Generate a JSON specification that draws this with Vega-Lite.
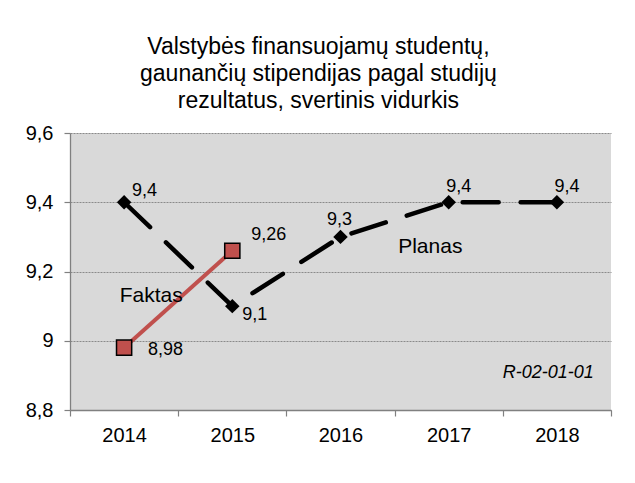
{
  "$schema": "https://vega.github.io/schema/vega-lite/v6.json",
  "width": 541,
  "height": 277,
  "autosize": {"type": "none"},
  "padding": {"left": 70, "top": 133, "right": 24, "bottom": 73},
  "background": "white",
  "title": {
    "text": ["Valstybės finansuojamų studentų,", "gaunančių stipendijas pagal studijų", "rezultatus, svertinis vidurkis"],
    "font": "Liberation Sans",
    "fontSize": 23,
    "fontWeight": "normal",
    "lineHeight": 27,
    "color": "black",
    "anchor": "middle",
    "frame": "bounds",
    "baseline": "bottom",
    "offset": 12,
    "dy": 25
  },
  "config": {
    "locale": {"number": {"decimal": ",", "thousands": "\u00a0", "grouping": [3], "currency": ["", " €"]}},
    "view": {"fill": "#d9d9d9", "stroke": null},
    "font": "Liberation Sans",
    "text": {"font": "Liberation Sans", "color": "black"}
  },
  "datasets": {
    "series": [
      {"year": 2014, "series": "Planas", "value": 9.4},
      {"year": 2015, "series": "Planas", "value": 9.1},
      {"year": 2016, "series": "Planas", "value": 9.3},
      {"year": 2017, "series": "Planas", "value": 9.4},
      {"year": 2018, "series": "Planas", "value": 9.4},
      {"year": 2014, "series": "Faktas", "value": 8.98},
      {"year": 2015, "series": "Faktas", "value": 9.26}
    ],
    "notes": [
      {"text": "Faktas", "year": 2014.25, "value": 9.13, "kind": "series"},
      {"text": "Planas", "year": 2016.83, "value": 9.27, "kind": "series"},
      {"text": "R-02-01-01", "year": 2017.92, "value": 8.906, "kind": "code"}
    ]
  },
  "encoding": {
    "x": {
      "field": "year",
      "type": "quantitative",
      "scale": {"domain": [2013.5, 2018.5], "nice": false, "zero": false},
      "axis": {
        "title": null,
        "values": [2013.5, 2014, 2014.5, 2015, 2015.5, 2016, 2016.5, 2017, 2017.5, 2018, 2018.5],
        "labelExpr": "datum.value % 1 == 0 ? format(datum.value, 'd') : ''",
        "labelFontSize": 20,
        "labelFont": "Liberation Sans",
        "labelColor": "black",
        "labelPadding": 9,
        "labelOverlap": false,
        "labelFlush": false,
        "labelBound": false,
        "tickSize": 6,
        "tickColor": "#808080",
        "tickWidth": 1.2,
        "tickOpacity": {"condition": {"test": "datum.value % 1 == 0", "value": 0}, "value": 1},
        "domainColor": "#808080",
        "domainWidth": 1.3,
        "grid": false
      }
    },
    "y": {
      "field": "value",
      "type": "quantitative",
      "scale": {"domain": [8.8, 9.6], "nice": false, "zero": false},
      "axis": {
        "title": null,
        "values": [8.8, 9, 9.2, 9.4, 9.6],
        "format": ".1~f",
        "labelFontSize": 20,
        "labelFont": "Liberation Sans",
        "labelColor": "black",
        "labelPadding": 11,
        "tickSize": 6,
        "tickColor": "#808080",
        "tickWidth": 1.2,
        "domainColor": "#808080",
        "domainWidth": 1.3,
        "grid": true,
        "gridColor": "#8a8a8a",
        "gridDash": [2, 1],
        "gridWidth": 1
      }
    }
  },
  "layer": [
    {
      "data": {"name": "series"},
      "transform": [{"filter": "datum.series == 'Planas'"}],
      "mark": {"type": "line", "color": "black", "strokeWidth": 4.5, "strokeDash": [36, 22], "strokeCap": "round"}
    },
    {
      "data": {"name": "series"},
      "transform": [{"filter": "datum.series == 'Planas'"}],
      "mark": {"type": "point", "shape": "diamond", "filled": true, "color": "black", "opacity": 1, "size": 210}
    },
    {
      "data": {"name": "series"},
      "transform": [{"filter": "datum.series == 'Faktas'"}],
      "mark": {"type": "line", "color": "#c0504d", "strokeWidth": 4}
    },
    {
      "data": {"name": "series"},
      "transform": [{"filter": "datum.series == 'Faktas'"}],
      "mark": {"type": "point", "shape": "square", "filled": true, "fill": "#c0504d", "stroke": "black", "strokeWidth": 1.5, "opacity": 1, "size": 230}
    },
    {
      "data": {"name": "series"},
      "transform": [{"filter": "datum.series == 'Planas' && datum.year == 2014"}],
      "mark": {"type": "text", "fontSize": 18, "align": "left", "baseline": "middle", "dx": 8, "dy": -11},
      "encoding": {"text": {"field": "value", "type": "quantitative", "format": ".2~f"}}
    },
    {
      "data": {"name": "series"},
      "transform": [{"filter": "datum.series == 'Planas' && datum.year == 2015"}],
      "mark": {"type": "text", "fontSize": 18, "align": "left", "baseline": "middle", "dx": 10, "dy": 9},
      "encoding": {"text": {"field": "value", "type": "quantitative", "format": ".2~f"}}
    },
    {
      "data": {"name": "series"},
      "transform": [{"filter": "datum.series == 'Planas' && datum.year == 2016"}],
      "mark": {"type": "text", "fontSize": 18, "align": "center", "baseline": "middle", "dx": -1, "dy": -17},
      "encoding": {"text": {"field": "value", "type": "quantitative", "format": ".2~f"}}
    },
    {
      "data": {"name": "series"},
      "transform": [{"filter": "datum.series == 'Planas' && datum.year >= 2017"}],
      "mark": {"type": "text", "fontSize": 18, "align": "center", "baseline": "middle", "dx": 10, "dy": -15},
      "encoding": {"text": {"field": "value", "type": "quantitative", "format": ".2~f"}}
    },
    {
      "data": {"name": "series"},
      "transform": [{"filter": "datum.series == 'Faktas' && datum.year == 2014"}],
      "mark": {"type": "text", "fontSize": 18, "align": "left", "baseline": "middle", "dx": 24, "dy": 2},
      "encoding": {"text": {"field": "value", "type": "quantitative", "format": ".2~f"}}
    },
    {
      "data": {"name": "series"},
      "transform": [{"filter": "datum.series == 'Faktas' && datum.year == 2015"}],
      "mark": {"type": "text", "fontSize": 18, "align": "left", "baseline": "middle", "dx": 19, "dy": -16},
      "encoding": {"text": {"field": "value", "type": "quantitative", "format": ".2~f"}}
    },
    {
      "data": {"name": "notes"},
      "transform": [{"filter": "datum.kind == 'series'"}],
      "mark": {"type": "text", "fontSize": 21, "align": "center", "baseline": "middle"},
      "encoding": {"text": {"field": "text", "type": "nominal"}}
    },
    {
      "data": {"name": "notes"},
      "transform": [{"filter": "datum.kind == 'code'"}],
      "mark": {"type": "text", "fontSize": 18, "fontStyle": "italic", "align": "center", "baseline": "middle"},
      "encoding": {"text": {"field": "text", "type": "nominal"}}
    }
  ]
}
